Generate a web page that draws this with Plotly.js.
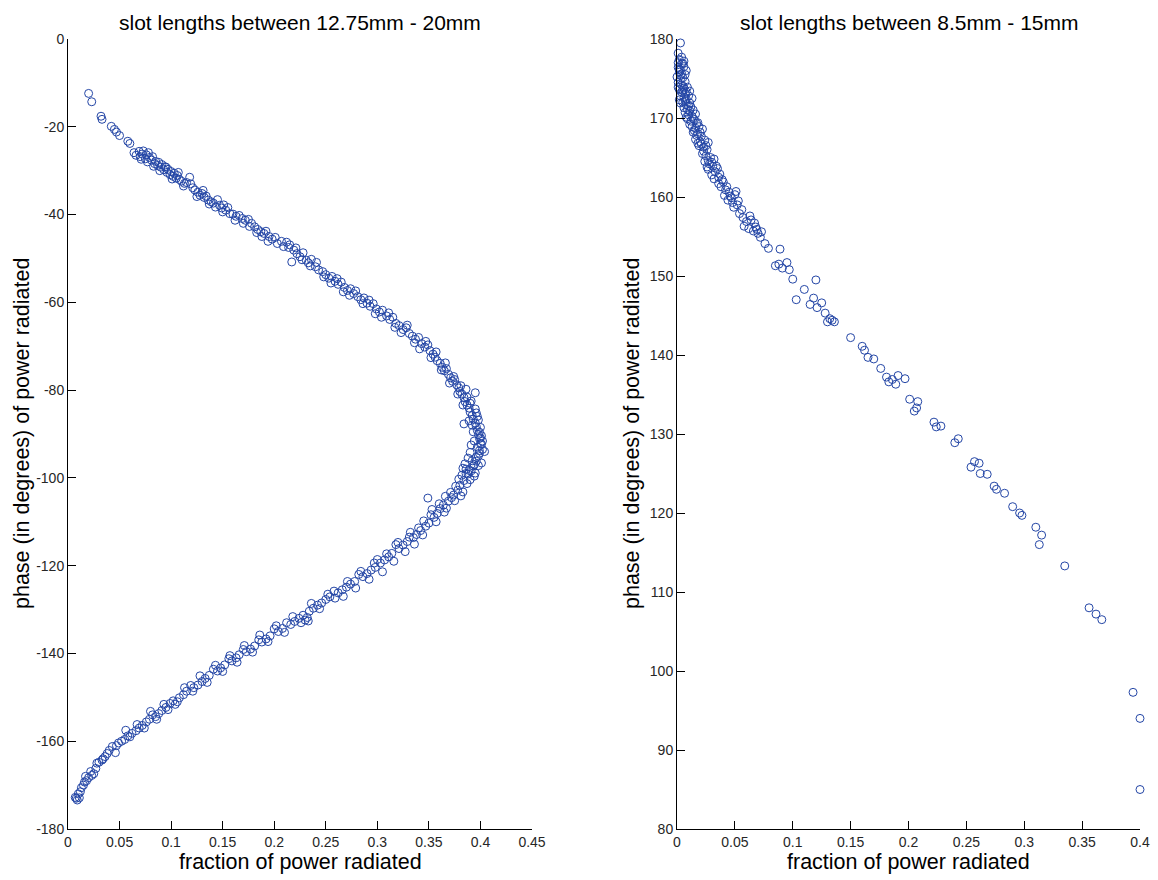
<!DOCTYPE html>
<html>
<head>
<meta charset="utf-8">
<script src="https://cdn.plot.ly/plotly-3.0.1.min.js"></script>
<style>html,body{margin:0;padding:0;background:#fff;}#chart{width:1158px;height:880px;}</style>
</head>
<body>
<div id="chart"></div>
<script>
// ---------- data ----------
var leftTitle = "slot lengths between 12.75mm - 20mm";
var rightTitle = "slot lengths between 8.5mm - 15mm";
var xLabel = "fraction of power radiated";
var yLabel = "phase (in degrees) of power radiated";

var leftXTicks = [0,0.05,0.1,0.15,0.2,0.25,0.3,0.35,0.4,0.45];
var leftXTickText = ["0","0.05","0.1","0.15","0.2","0.25","0.3","0.35","0.4","0.45"];
var leftYTicks = [-180,-160,-140,-120,-100,-80,-60,-40,-20,0];
var leftYTickText = ["-180","-160","-140","-120","-100","-80","-60","-40","-20","0"];
var rightXTicks = [0,0.05,0.1,0.15,0.2,0.25,0.3,0.35,0.4];
var rightXTickText = ["0","0.05","0.1","0.15","0.2","0.25","0.3","0.35","0.4"];
var rightYTicks = [80,90,100,110,120,130,140,150,160,170,180];
var rightYTickText = ["80","90","100","110","120","130","140","150","160","170","180"];

// left plot, upper branch [fraction, phase]
var leftUpperBranch = [
[0.020,-12.4],[0.023,-14.3],[0.032,-17.6],[0.033,-18.3],[0.042,-19.9],[0.045,-20.6],[0.047,-21.2],[0.050,-22.0],
[0.058,-23.3],[0.060,-23.8],[0.064,-25.9],[0.066,-26.5],[0.069,-25.6],[0.070,-26.8],[0.072,-26.2],[0.073,-25.5],
[0.075,-27.3],[0.076,-26.4],[0.078,-25.9],[0.079,-27.0],[0.081,-27.6],[0.082,-26.8],[0.084,-28.4],[0.085,-27.9],
[0.087,-28.8],[0.088,-28.1],[0.090,-29.2],[0.091,-28.6],[0.093,-29.8],[0.094,-29.1],[0.096,-30.4],[0.097,-29.7],
[0.099,-30.9],[0.100,-30.2],[0.102,-31.3],[0.103,-30.6],[0.105,-31.7],[0.106,-31.1],[0.108,-32.0],[0.110,-32.4],
[0.113,-32.9],[0.115,-32.7],[0.118,-31.5],[0.121,-33.9],[0.123,-34.4],[0.126,-34.9],[0.128,-35.6],[0.130,-35.2],
[0.132,-36.1],[0.134,-35.8],[0.136,-36.7],[0.139,-37.1],[0.141,-37.4],[0.145,-36.6],[0.147,-37.9],[0.149,-38.5],
[0.151,-37.8],[0.153,-39.0],[0.155,-38.4],[0.160,-39.9],[0.163,-40.4],[0.166,-40.2],[0.169,-40.9],[0.172,-41.3],
[0.175,-41.1],[0.178,-42.0],[0.181,-42.8],[0.184,-43.4],[0.187,-43.9],[0.190,-44.3],[0.192,-43.8],[0.195,-45.0],
[0.198,-45.6],[0.203,-46.6],[0.207,-46.1],[0.212,-46.3],[0.214,-47.5],[0.217,-50.8],[0.219,-48.1],[0.222,-48.9],
[0.225,-49.6],[0.228,-48.7],[0.231,-50.4],[0.233,-51.0],[0.236,-50.2],[0.240,-51.9],[0.243,-52.6],[0.247,-53.0],
[0.250,-53.7],[0.253,-54.5],[0.256,-54.1],[0.259,-55.2],[0.262,-55.9],[0.265,-55.4],[0.268,-56.6],[0.271,-57.3],
[0.274,-56.9],[0.277,-58.0],[0.281,-58.7],[0.284,-59.4],[0.287,-59.0],[0.290,-60.2],[0.293,-60.9],[0.296,-60.3],
[0.299,-61.5],[0.302,-62.2],[0.305,-61.8],[0.309,-63.1],[0.312,-63.9],[0.315,-63.4],[0.318,-64.8],[0.321,-65.3],
[0.325,-66.2],[0.328,-65.8],[0.331,-67.1],[0.334,-67.7],[0.337,-68.4],[0.340,-68.0],[0.343,-69.4],[0.346,-70.2],
[0.349,-69.7],[0.351,-71.0],[0.354,-71.8],[0.356,-72.5],[0.358,-73.3],[0.361,-73.9],[0.363,-74.8],[0.365,-75.6],
[0.367,-75.1],[0.369,-76.4],[0.371,-77.2],[0.373,-78.0],[0.375,-77.6],[0.377,-78.8],[0.379,-79.5],[0.380,-80.3],
[0.382,-80.9],[0.384,-81.7],[0.385,-82.6],[0.387,-83.4],[0.389,-84.1],[0.390,-85.0],[0.392,-85.8],[0.393,-86.6],
[0.395,-87.5],[0.396,-88.3],[0.397,-89.2],[0.398,-90.1],[0.399,-91.0],[0.384,-87.7]
];
// left plot, dense tip of the curve
var leftTip = [
[0.391,-82.5],[0.395,-84.3],[0.397,-86.0],[0.400,-88.5],[0.401,-90.4],[0.400,-92.2],[0.402,-93.5],[0.399,-94.4],
[0.396,-95.3],[0.404,-94.0],[0.394,-97.0],[0.392,-96.1],[0.389,-98.3],[0.386,-99.0],[0.401,-96.6],[0.388,-95.5],
[0.383,-97.8],[0.391,-92.5],[0.394,-91.6],[0.397,-93.0],[0.393,-89.5],[0.389,-87.0],[0.395,-80.6],[0.386,-79.8],
[0.398,-86.8],[0.400,-90.9],[0.390,-94.2],[0.385,-96.8]
];
// left plot, lower branch
var leftLowerBranch = [
[0.401,-92.3],[0.399,-93.8],[0.398,-95.0],[0.396,-96.2],[0.393,-97.3],[0.391,-98.4],[0.395,-98.9],[0.388,-99.1],
[0.386,-98.0],[0.384,-100.6],[0.382,-99.4],[0.380,-101.7],[0.378,-102.8],[0.383,-103.2],[0.376,-101.9],[0.374,-103.9],
[0.372,-104.5],[0.369,-105.3],[0.366,-104.2],[0.364,-106.2],[0.361,-107.0],[0.365,-107.8],[0.358,-108.1],[0.355,-109.0],
[0.352,-108.4],[0.350,-110.3],[0.349,-104.6],[0.347,-111.0],[0.345,-109.8],[0.342,-112.0],[0.338,-112.9],[0.335,-113.6],
[0.332,-112.4],[0.329,-114.5],[0.325,-115.3],[0.321,-116.1],[0.318,-115.2],[0.314,-117.2],[0.311,-118.0],[0.307,-118.7],
[0.303,-119.4],[0.300,-118.6],[0.298,-120.4],[0.294,-121.0],[0.290,-121.8],[0.286,-122.5],[0.282,-122.0],[0.278,-123.6],
[0.274,-124.2],[0.270,-124.9],[0.266,-125.5],[0.262,-126.2],[0.258,-125.8],[0.254,-127.1],[0.250,-127.7],[0.246,-128.5],
[0.242,-129.0],[0.238,-129.7],[0.234,-130.4],[0.232,-131.8],[0.230,-132.4],[0.233,-132.6],[0.228,-131.3],[0.224,-132.0],
[0.220,-132.7],[0.216,-133.4],[0.212,-133.0],[0.208,-134.3],[0.204,-135.0],[0.200,-134.4],[0.196,-136.0],[0.192,-136.7],
[0.188,-137.4],[0.185,-136.9],[0.181,-138.3],[0.177,-139.0],[0.173,-139.6],[0.170,-139.1],[0.166,-140.3],[0.163,-141.0],
[0.159,-141.7],[0.156,-141.2],[0.152,-142.6],[0.148,-143.3],[0.145,-144.0],[0.141,-143.6],[0.137,-145.0],[0.133,-145.7],
[0.130,-146.4],[0.126,-147.2],[0.122,-147.8],[0.119,-147.3],[0.115,-148.6],[0.112,-149.4],[0.108,-150.1],[0.104,-151.6],
[0.102,-150.8],[0.099,-151.4],[0.095,-152.3],[0.091,-153.0],[0.088,-153.7],[0.085,-154.4],[0.082,-154.0],[0.079,-155.0],
[0.076,-155.6],[0.072,-156.4],[0.069,-157.0],[0.066,-157.6],[0.062,-158.2],[0.058,-158.8],[0.055,-159.6],[0.052,-160.0],
[0.049,-160.4],[0.046,-162.6],[0.043,-161.2],[0.040,-162.1],[0.036,-163.5],[0.033,-164.3],[0.030,-164.8],[0.027,-166.2],
[0.025,-167.4],[0.022,-166.9],[0.020,-168.3],[0.017,-168.0],[0.015,-170.0],[0.013,-170.6],[0.011,-172.9],[0.009,-173.4],
[0.007,-172.8],[0.012,-171.5],[0.016,-169.3]
];
// left plot, scattered points that widen the band
var leftScatter = [
[0.071,-27.4],[0.077,-28.0],[0.083,-29.0],[0.089,-30.0],[0.095,-29.2],[0.101,-31.9],[0.107,-30.4],[0.112,-33.5],
[0.119,-33.0],[0.125,-35.9],[0.131,-34.5],[0.137,-37.6],[0.143,-38.3],[0.150,-39.4],[0.157,-39.8],[0.162,-41.3],
[0.170,-42.0],[0.176,-42.7],[0.183,-44.1],[0.188,-45.0],[0.194,-46.1],[0.201,-45.2],[0.209,-47.3],[0.215,-46.9],
[0.221,-47.6],[0.227,-50.3],[0.235,-51.7],[0.241,-50.9],[0.248,-54.2],[0.255,-55.6],[0.261,-54.6],[0.267,-57.6],
[0.273,-58.4],[0.279,-57.4],[0.286,-60.3],[0.292,-59.5],[0.298,-62.6],[0.304,-63.4],[0.311,-62.4],[0.317,-65.7],
[0.323,-66.9],[0.329,-65.2],[0.336,-69.2],[0.341,-70.6],[0.347,-68.9],[0.352,-72.6],[0.357,-71.3],[0.362,-75.4],
[0.366,-73.8],[0.370,-78.4],[0.374,-76.9],[0.378,-80.9],[0.381,-79.0],[0.383,-83.4],[0.387,-81.6],[0.390,-83.0],
[0.392,-88.0],[0.396,-85.2],[0.399,-89.6],[0.402,-91.6],[0.398,-97.2],[0.394,-99.6],[0.390,-100.4],[0.387,-101.3],
[0.379,-100.3],[0.381,-104.1],[0.375,-105.2],[0.371,-103.3],[0.367,-106.9],[0.360,-105.9],[0.357,-110.0],[0.353,-107.2],
[0.344,-113.0],[0.340,-111.4],[0.336,-115.1],[0.331,-113.5],[0.327,-116.8],[0.320,-114.7],[0.316,-119.0],[0.309,-117.3],
[0.305,-121.4],[0.297,-119.4],[0.292,-123.1],[0.284,-121.3],[0.279,-125.1],[0.271,-123.6],[0.267,-127.0],[0.259,-127.4],
[0.252,-126.5],[0.244,-129.8],[0.236,-128.6],[0.226,-133.0],[0.218,-131.6],[0.210,-135.2],[0.202,-133.7],[0.194,-137.3],
[0.186,-135.8],[0.179,-139.7],[0.171,-138.2],[0.164,-142.0],[0.157,-140.5],[0.150,-144.1],[0.143,-142.7],[0.135,-146.6],
[0.128,-145.1],[0.121,-148.6],[0.113,-147.8],[0.106,-151.0],[0.097,-152.8],[0.093,-151.6],[0.086,-155.0],[0.080,-153.2],
[0.074,-157.0],[0.067,-156.2],[0.060,-159.0],[0.056,-157.5],[0.047,-161.0],[0.038,-162.8],[0.034,-164.0],[0.028,-165.0],
[0.023,-167.8],[0.018,-169.0],[0.010,-172.0],[0.008,-173.0]
];

// right plot [fraction, phase]
var rightPoints = [
[0.003,179.5],
[0.002,177.4],[0.004,177.7],[0.006,177.2],[0.001,177.0],[0.005,176.9],
[0.001,176.4],[0.003,176.1],[0.006,176.5],[0.002,175.8],[0.008,176.0],[0.004,175.6],
[0.000,175.2],[0.003,174.9],[0.005,175.1],[0.007,174.6],[0.001,174.5],[0.004,174.2],
[0.006,173.8],[0.002,173.6],[0.009,173.9],[0.004,173.3],[0.007,173.1],[0.011,173.4],[0.003,172.8],[0.006,172.6],
[0.010,172.8],[0.013,172.5],[0.002,172.3],
[0.005,172.0],[0.008,171.7],[0.011,171.9],[0.006,171.3],[0.009,171.1],[0.012,171.4],[0.014,171.0],[0.007,170.7],
[0.010,170.4],[0.013,170.2],[0.016,170.5],[0.009,169.9],[0.012,169.6],[0.015,169.8],[0.017,169.3],
[0.013,168.9],[0.016,168.7],[0.019,168.9],[0.022,168.6],[0.014,168.2],[0.018,168.0],[0.021,167.7],
[0.016,167.3],[0.020,167.0],[0.024,167.2],[0.027,166.9],[0.019,166.5],[0.023,166.3],[0.026,166.0],
[0.022,165.5],[0.025,165.2],[0.029,165.0],[0.032,164.8],[0.024,164.5],[0.028,164.2],[0.031,163.9],[0.035,163.6],
[0.027,163.5],[0.033,163.2],[0.037,162.9],[0.030,162.8],[0.036,162.5],
[0.040,161.9],[0.038,161.3],[0.042,160.9],[0.045,160.6],[0.041,160.2],[0.047,159.9],[0.050,160.3],[0.051,160.7],
[0.044,159.6],[0.048,159.3],[0.052,159.0],[0.049,158.7],
[0.054,157.9],[0.057,157.4],[0.060,156.9],[0.064,157.1],[0.067,156.7],[0.058,156.3],[0.062,156.0],[0.066,155.7],
[0.070,155.4],[0.068,156.2],[0.072,154.9],
[0.076,154.1],[0.079,153.5],[0.085,151.3],[0.088,151.5],[0.089,153.4],[0.091,151.0],[0.095,151.7],[0.097,150.8],
[0.100,149.6],[0.103,147.0],[0.110,148.3],[0.115,146.4],[0.118,147.2],[0.120,149.5],[0.121,146.0],[0.125,146.6],
[0.128,145.3],[0.130,144.2],[0.132,144.6],[0.134,144.4],[0.136,144.2],[0.150,142.2],[0.160,141.1],[0.162,140.6],
[0.165,139.7],[0.170,139.5],[0.176,138.3],[0.181,137.2],[0.183,136.6],[0.186,136.9],[0.189,136.3],[0.191,137.4],
[0.197,137.0],[0.201,134.4],[0.205,132.9],[0.207,133.3],[0.208,134.1],[0.222,131.5],[0.224,130.9],[0.228,131.0],
[0.240,128.9],[0.243,129.4],[0.254,125.8],[0.257,126.5],[0.261,126.3],[0.262,125.0],[0.268,124.9],[0.274,123.4],
[0.276,123.0],[0.283,122.5],[0.290,120.8],[0.296,120.0],[0.298,119.7],[0.310,118.2],[0.315,117.2],[0.313,116.0],
[0.335,113.3],[0.356,108.0],[0.362,107.2],[0.367,106.5],[0.394,97.3],[0.400,94.0],[0.400,85.0]
];
// right plot, extra points in the dense top cluster
var rightCluster = [
[0.001,178.2],[0.004,176.9],[0.002,176.2],[0.007,175.5],[0.003,175.4],[0.005,174.0],[0.008,173.3],[0.001,173.9],
[0.005,173.5],[0.008,172.4],[0.003,171.9],[0.010,171.5],[0.007,172.2],[0.011,170.9],[0.008,170.1],[0.014,169.9],
[0.011,169.2],[0.015,168.4],[0.018,169.4],[0.017,167.8],[0.020,168.2],[0.021,166.7],[0.018,166.8],[0.025,166.5],
[0.023,165.8],[0.027,164.6],[0.030,164.4],[0.026,163.8],[0.034,163.9],[0.032,162.3],[0.039,162.2],[0.036,161.7],
[0.043,161.3],[0.046,160.1],[0.053,159.5],[0.056,158.4],[0.063,157.6],[0.069,155.9],[0.073,155.6]
];

// ---------- build ----------
var leftAll = leftUpperBranch.concat(leftTip, leftLowerBranch, leftScatter);
var rightAll = rightPoints.concat(rightCluster);
function col(arr, i){ return arr.map(function(p){ return p[i]; }); }

var FONT = "Liberation Sans, Arial, Helvetica, sans-serif";
var markerStyle = {symbol:"circle-open", size:8, color:"#2446a6", line:{width:1, color:"#2446a6"}};

var traces = [
  {type:"scatter", mode:"markers", x:col(leftAll,0), y:col(leftAll,1), xaxis:"x", yaxis:"y",
   marker:markerStyle, cliponaxis:false, showlegend:false, hoverinfo:"x+y"},
  {type:"scatter", mode:"markers", x:col(rightAll,0), y:col(rightAll,1), xaxis:"x2", yaxis:"y2",
   marker:markerStyle, cliponaxis:false, showlegend:false, hoverinfo:"x+y"}
];

function axisBase(){
  return {showline:true, linecolor:"#000", linewidth:1, mirror:false, showgrid:false, zeroline:false,
          ticks:"inside", ticklen:8, tickwidth:1, tickcolor:"#000",
          tickfont:{family:FONT, size:14, color:"#262626"}, fixedrange:true};
}
var W = 1158, H = 880;
var xa = axisBase(); xa.domain=[68/W, 532/W]; xa.range=[0,0.45]; xa.tickmode="array"; xa.tickvals=leftXTicks; xa.ticktext=leftXTickText; xa.anchor="y";
var ya = axisBase(); ya.domain=[1-829/H, 1-39/H]; ya.range=[-180,0]; ya.tickmode="array"; ya.tickvals=leftYTicks; ya.ticktext=leftYTickText; ya.anchor="x";
var xb = axisBase(); xb.domain=[677/W, 1140/W]; xb.range=[0,0.4]; xb.tickmode="array"; xb.tickvals=rightXTicks; xb.ticktext=rightXTickText; xb.anchor="y2";
var yb = axisBase(); yb.domain=[1-829/H, 1-39/H]; yb.range=[80,180]; yb.tickmode="array"; yb.tickvals=rightYTicks; yb.ticktext=rightYTickText; yb.anchor="x2";

function ann(text, xpx, ypx, size, angle){
  return {text:text, xref:"paper", yref:"paper", x:xpx/W, y:1-ypx/H, xanchor:"center", yanchor:"middle",
          showarrow:false, textangle:angle||0, font:{family:FONT, size:size, color:"#000"}};
}

var layout = {
  width:W, height:H, margin:{l:0,r:0,t:0,b:0}, paper_bgcolor:"#fff", plot_bgcolor:"#fff",
  showlegend:false,
  xaxis:xa, yaxis:ya, xaxis2:xb, yaxis2:yb,
  annotations:[
    ann(leftTitle, 300, 23, 21),
    ann(rightTitle, 908.5, 23, 21),
    ann(xLabel, 300, 862, 21.5),
    ann(xLabel, 908.5, 862, 21.5),
    ann(yLabel, 22, 434, 21.5, -90),
    ann(yLabel, 632, 434, 21.5, -90)
  ]
};

Plotly.newPlot("chart", traces, layout, {staticPlot:true, displayModeBar:false});
</script>
</body>
</html>
